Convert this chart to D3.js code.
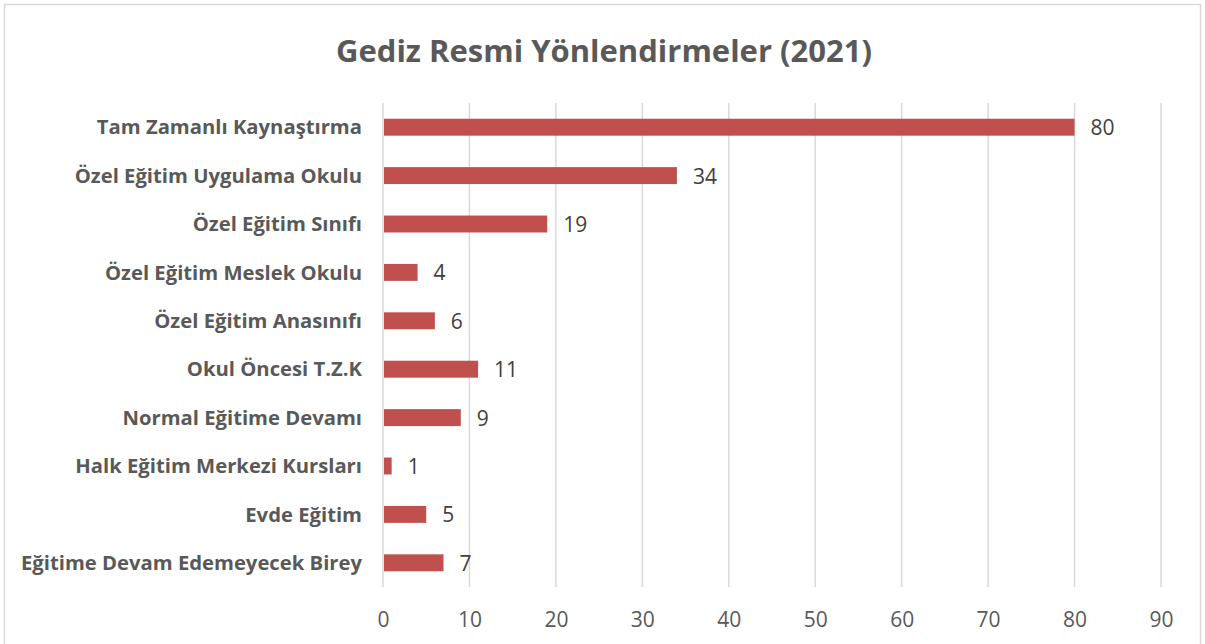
<!DOCTYPE html>
<html lang="tr">
	<head>
		<meta charset="utf-8">
		<title>Gediz Resmi Yönlendirmeler (2021)</title>
		<script type="text/javascript" src="https://d3js.org/d3.v7.min.js"></script>
		<style type="text/css">
			body { margin: 0; background: #fff; }
			text { font-family: "Open Sans", "Noto Sans", sans-serif; }
		</style>
	</head>
	<body>
		<script type="text/javascript">

			//Width and height
			var w = 1205;
			var h = 644;

			// data
			var categories = [
				"Tam Zamanlı Kaynaştırma",
				"Özel Eğitim Uygulama Okulu",
				"Özel Eğitim Sınıfı",
				"Özel Eğitim Meslek Okulu",
				"Özel Eğitim Anasınıfı",
				"Okul Öncesi T.Z.K",
				"Normal Eğitime Devamı",
				"Halk Eğitim Merkezi Kursları",
				"Evde Eğitim",
				"Eğitime Devam Edemeyecek Birey"
			];
			var values = [80, 34, 19, 4, 6, 11, 9, 1, 5, 7];
			var xTicks = [0, 10, 20, 30, 40, 50, 60, 70, 80, 90];
			var title = "Gediz Resmi Yönlendirmeler (2021)";

			var plot = { left: 383, right: 1161, top: 103, bottom: 587 };

			var svg = d3.select("body")
						.append("svg")
						.attr("width", w)
						.attr("height", h);

			//chart border
			svg.append("rect")
				.attr("x", 4.5)
				.attr("y", 4.5)
				.attr("width", 1196)
				.attr("height", 660)
				.attr("fill", "#fff")
				.attr("stroke", "#d9d9d9")
				.attr("stroke-width", 1.5);

			var x = d3.scaleLinear()
				.domain([0, 90])
				.range([plot.left, plot.right]);

			var y = d3.scaleBand()
				.domain(categories)
				.range([plot.top, plot.bottom])
				.paddingInner(0.65)
				.paddingOuter(0.325);

			//vertical gridlines
			svg.append("g")
				.selectAll("line")
				.data(xTicks)
				.enter()
				.append("line")
				.attr("x1", function(d) { return x(d); })
				.attr("x2", function(d) { return x(d); })
				.attr("y1", plot.top)
				.attr("y2", plot.bottom)
				.attr("stroke", "#d9d9d9")
				.attr("stroke-width", 1.5);

			//x axis labels
			var xAxis = d3.axisBottom(x)
				.tickValues(xTicks)
				.tickSize(0)
				.tickPadding(0);

			var gx = svg.append("g")
				.attr("transform", "translate(0," + (plot.bottom + 40) + ")")
				.call(xAxis);
			gx.select(".domain").remove();
			gx.selectAll("text")
				.attr("dy", null)
				.style("font-size", "21px")
				.attr("fill", "#595959");

			//category labels
			var yAxis = d3.axisLeft(y)
				.tickSize(0)
				.tickPadding(21);

			var gy = svg.append("g")
				.attr("transform", "translate(" + plot.left + ",0)")
				.call(yAxis);
			gy.select(".domain").remove();
			gy.selectAll("text")
				.attr("dy", "0.36em")
				.style("font-size", "20.25px")
				.style("font-weight", "bold")
				.attr("fill", "#595959");

			//bars
			svg.append("g")
				.selectAll("rect")
				.data(values)
				.enter()
				.append("rect")
				.attr("x", x(0) + 1)
				.attr("y", function(d, i) { return y(categories[i]); })
				.attr("width", function(d) { return x(d) - x(0) - 1; })
				.attr("height", y.bandwidth())
				.attr("fill", "#c0504d");

			//value labels
			svg.append("g")
				.selectAll("text")
				.data(values)
				.enter()
				.append("text")
				.attr("x", function(d) { return x(d) + 16; })
				.attr("y", function(d, i) { return y(categories[i]) + y.bandwidth() / 2; })
				.attr("dy", "0.38em")
				.style("font-size", "21px")
				.attr("fill", "#404040")
				.text(function(d) { return d; });

			//title
			svg.append("text")
				.attr("x", 604)
				.attr("y", 62)
				.attr("text-anchor", "middle")
				.style("font-size", "31px")
				.style("font-weight", "bold")
				.attr("fill", "#595959")
				.text(title);

		</script>
	</body>
</html>
